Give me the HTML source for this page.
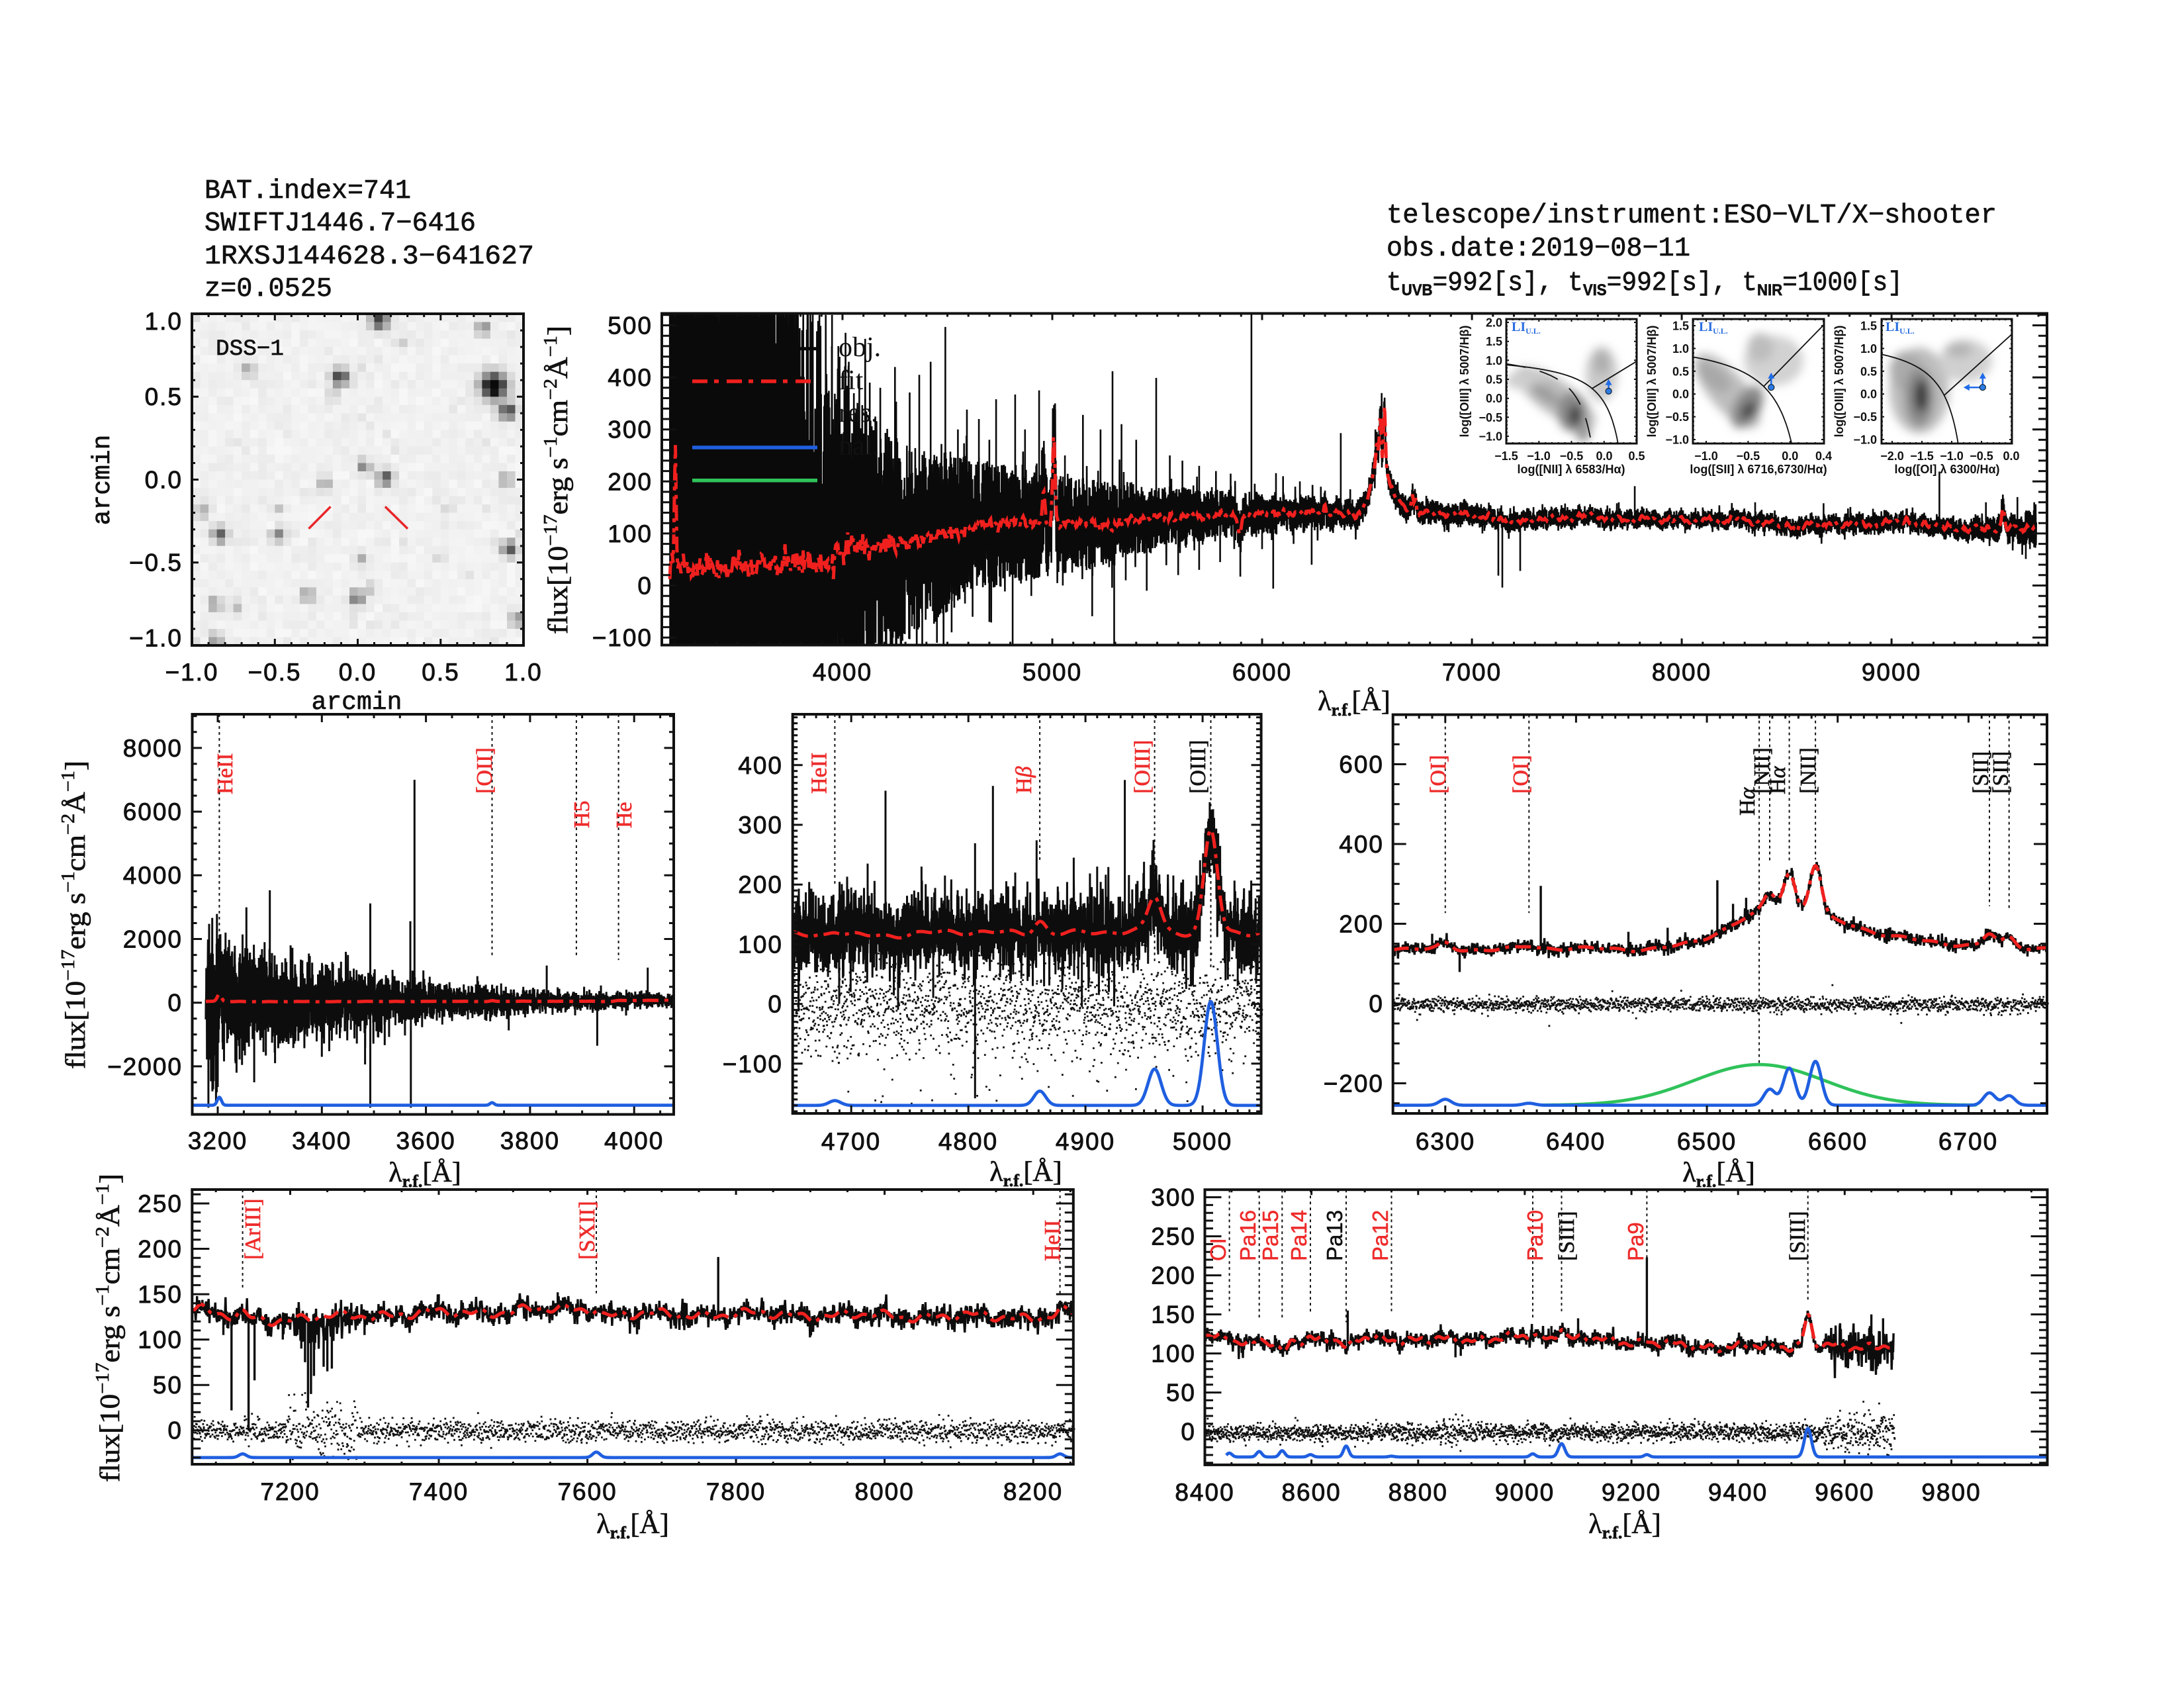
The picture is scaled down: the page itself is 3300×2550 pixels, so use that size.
<!DOCTYPE html>
<html><head><meta charset="utf-8">
<style>
html,body{margin:0;padding:0;background:#fff}
svg{display:block}
.tk{font-family:"Liberation Sans",sans-serif;font-size:37px;letter-spacing:2px;fill:#111;stroke:#111;stroke-width:0.9px}
.hd{font-family:"Liberation Mono",monospace;fill:#111;stroke:#111;stroke-width:0.7px}
.lr{font-family:"Liberation Serif",serif;font-size:34px;stroke-width:0.6px}
.ls{font-family:"Liberation Sans",sans-serif;font-size:33px;stroke-width:0.5px}
.it{font-family:"Liberation Sans",sans-serif;font-size:18px;font-weight:bold;fill:#111}
.ttl{font-family:"Liberation Serif",serif;font-size:42px;fill:#111;stroke:#111;stroke-width:0.7px}
</style></head>
<body>
<svg id="svg" xmlns="http://www.w3.org/2000/svg" width="3300" height="2550" viewBox="0 0 3300 2550">
<rect width="3300" height="2550" fill="#fff"/>
<defs>
<clipPath id="c_main"><rect x="1000" y="473.5" width="2093" height="501"/></clipPath>
<clipPath id="c_ml"><rect x="290.5" y="1079" width="727.5" height="604.5"/></clipPath>
<clipPath id="c_mc"><rect x="1197.7" y="1079" width="707.9" height="603"/></clipPath>
<clipPath id="c_mr"><rect x="2104.7" y="1079.6" width="988.3" height="602.4"/></clipPath>
<clipPath id="c_bl"><rect x="290.3" y="1797" width="1331.5" height="415"/></clipPath>
<clipPath id="c_br"><rect x="1820.5" y="1797.2" width="1273" height="415.7"/></clipPath>
<clipPath id="c_dss"><rect x="290" y="474" width="501" height="501"/></clipPath>
<clipPath id="c_i1"><rect x="2276" y="482" width="197" height="188"/></clipPath>
<clipPath id="c_i2"><rect x="2558" y="482" width="198" height="188"/></clipPath>
<clipPath id="c_i3"><rect x="2843" y="482" width="197" height="188"/></clipPath>
<filter id="blur" x="-50%" y="-50%" width="200%" height="200%"><feGaussianBlur stdDeviation="7"/></filter>
</defs>
<g id="dyn"></g>
<g id="txt">
<!-- headers -->
<text class="hd" font-size="40.5" x="309" y="299" textLength="312" lengthAdjust="spacingAndGlyphs">BAT.index=741</text>
<text class="hd" font-size="40.5" x="309" y="348" textLength="410" lengthAdjust="spacingAndGlyphs">SWIFTJ1446.7−6416</text>
<text class="hd" font-size="40.5" x="309" y="398" textLength="498" lengthAdjust="spacingAndGlyphs">1RXSJ144628.3−641627</text>
<text class="hd" font-size="40.5" x="309" y="447" textLength="193" lengthAdjust="spacingAndGlyphs">z=0.0525</text>
<text class="hd" font-size="41" x="2095" y="336" textLength="922" lengthAdjust="spacingAndGlyphs">telescope/instrument:ESO−VLT/X−shooter</text>
<text class="hd" font-size="41" x="2095" y="386" textLength="459" lengthAdjust="spacingAndGlyphs">obs.date:2019−08−11</text>
<text class="hd" font-size="41" x="2095" y="438" textLength="780" lengthAdjust="spacingAndGlyphs">t<tspan font-family="Liberation Sans" font-weight="bold" font-size="24" dy="8">UVB</tspan><tspan dy="-8">=992[s], t</tspan><tspan font-family="Liberation Sans" font-weight="bold" font-size="24" dy="8">VIS</tspan><tspan dy="-8">=992[s], t</tspan><tspan font-family="Liberation Sans" font-weight="bold" font-size="24" dy="8">NIR</tspan><tspan dy="-8">=1000[s]</tspan></text>

<!-- DSS -->
<text class="hd" font-size="34" x="326" y="536" textLength="103" lengthAdjust="spacingAndGlyphs">DSS−1</text>
<text class="hd" font-size="38" x="539" y="1071" text-anchor="middle">arcmin</text>
<text class="hd" font-size="38" transform="translate(165,725) rotate(-90)" text-anchor="middle">arcmin</text>
<g class="tk" text-anchor="middle">
<text x="290" y="1028">−1.0</text><text x="415" y="1028">−0.5</text><text x="540.5" y="1028">0.0</text><text x="666" y="1028">0.5</text><text x="791" y="1028">1.0</text>
</g>
<g class="tk" text-anchor="end">
<text x="276" y="498">1.0</text><text x="276" y="612">0.5</text><text x="276" y="737.5">0.0</text><text x="276" y="862.5">−0.5</text><text x="276" y="976.5">−1.0</text>
</g>

<!-- main panel labels -->
<g class="tk" text-anchor="middle">
<text x="1273" y="1028">4000</text><text x="1590" y="1028">5000</text><text x="1907" y="1028">6000</text><text x="2224" y="1028">7000</text><text x="2541" y="1028">8000</text><text x="2858" y="1028">9000</text>
</g>
<g class="tk" text-anchor="end">
<text x="986" y="504.5">500</text><text x="986" y="583">400</text><text x="986" y="661.7">300</text><text x="986" y="740.3">200</text><text x="986" y="819">100</text><text x="986" y="897.5">0</text><text x="986" y="976">−100</text>
</g>
<text class="ttl" x="2046" y="1073" text-anchor="middle">λ<tspan font-size="26" font-weight="bold" dy="8">r.f.</tspan><tspan dy="-8">[Å]</tspan></text>
<text class="ttl" transform="translate(857,725) rotate(-90)" text-anchor="middle" textLength="466" lengthAdjust="spacingAndGlyphs">flux[10<tspan font-size="28" dy="-16">−17</tspan><tspan dy="16">erg s</tspan><tspan font-size="28" dy="-16">−1</tspan><tspan dy="16">cm</tspan><tspan font-size="28" dy="-16">−2</tspan><tspan dy="16">Å</tspan><tspan font-size="28" dy="-16">−1</tspan><tspan dy="16">]</tspan></text>
<g font-family="Liberation Serif" font-size="42" fill="#111">
<text x="1267" y="538">obj.</text><text x="1267" y="588">fit</text><text x="1267" y="637">res.</text><text x="1267" y="687">nal.</text>
</g>

<!-- insets text -->
<g class="it" text-anchor="end">
<text x="2270" y="493.5">2.0</text><text x="2270" y="522">1.5</text><text x="2270" y="550.8">1.0</text><text x="2270" y="579.5">0.5</text><text x="2270" y="608">0.0</text><text x="2270" y="636.8">−0.5</text><text x="2270" y="665.5">−1.0</text>
<text x="2552" y="498.5">1.5</text><text x="2552" y="533">1.0</text><text x="2552" y="567.3">0.5</text><text x="2552" y="601.7">0.0</text><text x="2552" y="636">−0.5</text><text x="2552" y="670.5">−1.0</text>
<text x="2836" y="498.5">1.5</text><text x="2836" y="533">1.0</text><text x="2836" y="567.3">0.5</text><text x="2836" y="601.7">0.0</text><text x="2836" y="636">−0.5</text><text x="2836" y="670.5">−1.0</text>
</g>
<g class="it" text-anchor="middle">
<text x="2276" y="695">−1.5</text><text x="2325" y="695">−1.0</text><text x="2374.5" y="695">−0.5</text><text x="2424" y="695">0.0</text><text x="2473" y="695">0.5</text>
<text x="2578" y="695">−1.0</text><text x="2641.4" y="695">−0.5</text><text x="2704.8" y="695">0.0</text><text x="2755.5" y="695">0.4</text>
<text x="2859" y="695">−2.0</text><text x="2904" y="695">−1.5</text><text x="2949" y="695">−1.0</text><text x="2994" y="695">−0.5</text><text x="3039" y="695">0.0</text>
<text x="2374" y="715">log([NII] λ 6583/Hα)</text>
<text x="2657" y="715">log([SII] λ 6716,6730/Hα)</text>
<text x="2942" y="715">log([OI] λ 6300/Hα)</text>
<text transform="translate(2219,576) rotate(-90)">log([OIII] λ 5007/Hβ)</text>
<text transform="translate(2502,576) rotate(-90)">log([OIII] λ 5007/Hβ)</text>
<text transform="translate(2785,576) rotate(-90)">log([OIII] λ 5007/Hβ)</text>
</g>
<g font-family="Liberation Serif" font-weight="bold" font-size="20" fill="#2a6ee0">
<text x="2284" y="500">LI<tspan font-size="12" dy="4">U.L.</tspan></text>
<text x="2567" y="500">LI<tspan font-size="12" dy="4">U.L.</tspan></text>
<text x="2849" y="500">LI<tspan font-size="12" dy="4">U.L.</tspan></text>
</g>

<!-- mid-left -->
<g class="tk" text-anchor="middle">
<text x="329" y="1736">3200</text><text x="486.3" y="1736">3400</text><text x="643.6" y="1736">3600</text><text x="800.9" y="1736">3800</text><text x="958.2" y="1736">4000</text>
</g>
<g class="tk" text-anchor="end">
<text x="276" y="1143">8000</text><text x="276" y="1239">6000</text><text x="276" y="1335">4000</text><text x="276" y="1431.5">2000</text><text x="276" y="1527.7">0</text><text x="276" y="1624">−2000</text>
</g>
<text class="ttl" x="642" y="1785" text-anchor="middle">λ<tspan font-size="26" font-weight="bold" dy="8">r.f.</tspan><tspan dy="-8">[Å]</tspan></text>
<text class="ttl" transform="translate(128,1382) rotate(-90)" text-anchor="middle" textLength="466" lengthAdjust="spacingAndGlyphs">flux[10<tspan font-size="28" dy="-16">−17</tspan><tspan dy="16">erg s</tspan><tspan font-size="28" dy="-16">−1</tspan><tspan dy="16">cm</tspan><tspan font-size="28" dy="-16">−2</tspan><tspan dy="16">Å</tspan><tspan font-size="28" dy="-16">−1</tspan><tspan dy="16">]</tspan></text>
<g class="lr" fill="#ee2b2b" stroke="#ee2b2b">
<text transform="translate(351,1200) rotate(-90)">HeII</text>
<text transform="translate(743,1199) rotate(-90)">[OII]</text>
<text transform="translate(890,1251) rotate(-90)">H5</text>
<text transform="translate(954,1251) rotate(-90)">He</text>
</g>

<!-- mid-center -->
<g class="tk" text-anchor="middle">
<text x="1286" y="1737">4700</text><text x="1463" y="1737">4800</text><text x="1640" y="1737">4900</text><text x="1817" y="1737">5000</text>
</g>
<g class="tk" text-anchor="end">
<text x="1183" y="1169">400</text><text x="1183" y="1259">300</text><text x="1183" y="1349">200</text><text x="1183" y="1439.5">100</text><text x="1183" y="1529.6">0</text><text x="1183" y="1620">−100</text>
</g>
<text class="ttl" x="1550" y="1784" text-anchor="middle">λ<tspan font-size="26" font-weight="bold" dy="8">r.f.</tspan><tspan dy="-8">[Å]</tspan></text>
<g class="lr" fill="#ee2b2b" stroke="#ee2b2b">
<text transform="translate(1248.7,1199) rotate(-90)">HeII</text>
<text transform="translate(1558,1199) rotate(-90)">H<tspan font-style="italic">β</tspan></text>
<text transform="translate(1737,1199) rotate(-90)">[OIII]</text>
</g>
<text class="lr" fill="#111" stroke="#111" transform="translate(1821,1199) rotate(-90)">[OIII]</text>

<!-- mid-right -->
<g class="tk" text-anchor="middle">
<text x="2184" y="1737">6300</text><text x="2381" y="1737">6400</text><text x="2579" y="1737">6500</text><text x="2777" y="1737">6600</text><text x="2974" y="1737">6700</text>
</g>
<g class="tk" text-anchor="end">
<text x="2091" y="1167.5">600</text><text x="2091" y="1288">400</text><text x="2091" y="1408.5">200</text><text x="2091" y="1529">0</text><text x="2091" y="1649.5">−200</text>
</g>
<text class="ttl" x="2597" y="1785" text-anchor="middle">λ<tspan font-size="26" font-weight="bold" dy="8">r.f.</tspan><tspan dy="-8">[Å]</tspan></text>
<g class="lr" fill="#ee2b2b" stroke="#ee2b2b">
<text transform="translate(2184,1199) rotate(-90)">[OI]</text>
<text transform="translate(2309,1199) rotate(-90)">[OI]</text>
</g>
<g class="lr" fill="#111" stroke="#111">
<text transform="translate(2651,1232) rotate(-90)">H<tspan font-style="italic">α</tspan></text>
<text transform="translate(2673,1199) rotate(-90)">[NII]</text>
<text transform="translate(2697,1200) rotate(-90)">H<tspan font-style="italic">α</tspan></text>
<text transform="translate(2743,1199) rotate(-90)">[NII]</text>
<text transform="translate(3004,1199) rotate(-90)">[SII]</text>
<text transform="translate(3034,1199) rotate(-90)">[SII]</text>
</g>

<!-- bottom-left -->
<g class="tk" text-anchor="middle">
<text x="438.5" y="2266">7200</text><text x="663" y="2266">7400</text><text x="887.6" y="2266">7600</text><text x="1112" y="2266">7800</text><text x="1336.7" y="2266">8000</text><text x="1561" y="2266">8200</text>
</g>
<g class="tk" text-anchor="end">
<text x="276" y="1831">250</text><text x="276" y="1899.5">200</text><text x="276" y="1968">150</text><text x="276" y="2036.6">100</text><text x="276" y="2105">50</text><text x="276" y="2173.7">0</text>
</g>
<text class="ttl" x="956" y="2316" text-anchor="middle">λ<tspan font-size="26" font-weight="bold" dy="8">r.f.</tspan><tspan dy="-8">[Å]</tspan></text>
<text class="ttl" transform="translate(180,2006) rotate(-90)" text-anchor="middle" textLength="466" lengthAdjust="spacingAndGlyphs">flux[10<tspan font-size="28" dy="-16">−17</tspan><tspan dy="16">erg s</tspan><tspan font-size="28" dy="-16">−1</tspan><tspan dy="16">cm</tspan><tspan font-size="28" dy="-16">−2</tspan><tspan dy="16">Å</tspan><tspan font-size="28" dy="-16">−1</tspan><tspan dy="16">]</tspan></text>
<g class="lr" fill="#ee2b2b" stroke="#ee2b2b">
<text transform="translate(393,1903) rotate(-90)">[ArIII]</text>
<text transform="translate(898,1903) rotate(-90)">[SXII]</text>
<text transform="translate(1601,1905) rotate(-90)">HeII</text>
</g>

<!-- bottom-right -->
<g class="tk" text-anchor="middle">
<text x="1820.5" y="2267">8400</text><text x="1981.6" y="2267">8600</text><text x="2142.8" y="2267">8800</text><text x="2304" y="2267">9000</text><text x="2465" y="2267">9200</text><text x="2626" y="2267">9400</text><text x="2787.4" y="2267">9600</text><text x="2948.5" y="2267">9800</text>
</g>
<g class="tk" text-anchor="end">
<text x="1807" y="1821.6">300</text><text x="1807" y="1880.6">250</text><text x="1807" y="1939.6">200</text><text x="1807" y="1998.6">150</text><text x="1807" y="2057.6">100</text><text x="1807" y="2116.6">50</text><text x="1807" y="2175.6">0</text>
</g>
<text class="ttl" x="2455" y="2316" text-anchor="middle">λ<tspan font-size="26" font-weight="bold" dy="8">r.f.</tspan><tspan dy="-8">[Å]</tspan></text>
<g class="ls" fill="#ee2b2b" stroke="#ee2b2b">
<text transform="translate(1852,1905) rotate(-90)">OI</text>
<text transform="translate(1897,1905) rotate(-90)">Pa16</text>
<text transform="translate(1931,1905) rotate(-90)">Pa15</text>
<text transform="translate(1974,1905) rotate(-90)">Pa14</text>
<text transform="translate(2097,1905) rotate(-90)">Pa12</text>
<text transform="translate(2331,1905) rotate(-90)">Pa10</text>
<text transform="translate(2483,1905) rotate(-90)">Pa9</text>
</g>
<text class="ls" fill="#111" stroke="#111" transform="translate(2028,1905) rotate(-90)">Pa13</text>
<g class="lr" fill="#111" stroke="#111">
<text transform="translate(2378,1905) rotate(-90)">[SIII]</text>
<text transform="translate(2727,1905) rotate(-90)">[SIII]</text>
</g>
</g>
</svg>
<script>
(function(){
var seed=987654321;
function rnd(){seed|=0;seed=seed+0x6D2B79F5|0;var t=Math.imul(seed^seed>>>15,1|seed);t=t+Math.imul(t^t>>>7,61|t)^t;return((t^t>>>14)>>>0)/4294967296;}
function gauss(){var u=1-rnd(),v=rnd();return Math.sqrt(-2*Math.log(u))*Math.cos(6.283185307*v);}
function interp(k,x){if(x<=k[0][0])return k[0][1];for(var i=1;i<k.length;i++){if(x<=k[i][0]){var a=k[i-1],b=k[i];return a[1]+(b[1]-a[1])*(x-a[0])/(b[0]-a[0]);}}return k[k.length-1][1];}
function G(l,c,s,a){var d=(l-c)/s;return a*Math.exp(-0.5*d*d);}
function f(n){return n.toFixed(1);}
var CK=[[3140,28],[3180,38],[3300,32],[3500,36],[3700,40],[3900,45],[3935,35],[3955,40],[3968,66],[4000,70],[4300,82],[4500,100],[4650,114],[4800,119],[5000,120],[5200,121],[5280,112],[5300,118],[5400,128],[5600,132],[5850,137],[5880,128],[5893,95],[5905,132],[6000,138],[6200,140],[6300,137],[6450,137],[6700,143],[6760,141],[7000,135],[7080,133],[7100,126],[7200,122],[7300,127],[7400,129],[7600,134],[7620,127],[7800,128],[8000,126],[8200,125],[8250,128],[8400,121],[8470,116],[8490,112],[8500,116],[8530,113],[8545,90],[8560,113],[8600,118],[8640,121],[8655,113],[8665,92],[8680,116],[8700,119],[8850,117],[9000,121],[9100,119],[9200,115],[9300,110],[9400,108],[9500,110],[9600,109],[9700,110]];
var NL=[[3203,230,4],[3727,20,4],[4686,8,5],[4861,22,5],[4959,58,5.6],[5007,172,5.6],[6300,15,4.5],[6364,5,4.5],[6548,42,4.5],[6563,93,4.5],[6583,125,4.5],[6716,31,4.5],[6731,24,4.5],[7136,4,5],[7612,6,5],[8236,4,5],[8446,5,5],[8502,6,5],[8545,7,5],[8598,3,5],[8665,12,5],[9015,4,5],[9069,17,6],[9229,3,5],[9531,38,6.5]];
function wig(l){return 3*Math.sin(l/9.7)+2.5*Math.sin(l/4.3+1.3)+2*Math.sin(l/23+0.5);}
function F(l){var v=interp(CK,l)+wig(l);v+=G(l,6555,l<6555?35:55,95);for(var i=0;i<NL.length;i++){var n=NL[i];if(Math.abs(l-n[0])<7*n[2])v+=G(l,n[0],n[2],n[1]);}return v;}
function mk(id,x0,x1,y0,y1,xa,xb,ya,yb){return{id:id,x0:x0,x1:x1,y0:y0,y1:y1,xa:xa,xb:xb,ya:ya,yb:yb,
 X:function(l){return x0+(l-xa)*(x1-x0)/(xb-xa);},Y:function(v){return y0+(ya-v)*(y1-y0)/(ya-yb);},L:function(x){return xa+(x-x0)*(xb-xa)/(x1-x0);}};}
var P={
 main:mk('main',1000,3093,473.5,974.5,3138.8,9741,522.9,-114.5),
 ml:mk('ml',290.5,1018,1079,1683.5,3151,4076,9058,-3509),
 mc:mk('mc',1197.7,1905.6,1079,1682,4650,5050,485.1,-183.4),
 mr:mk('mr',2104.7,3093,1079.6,1682,6260,6760,724.3,-275.5),
 bl:mk('bl',290.3,1621.8,1797,2212,7068,8254,265.3,-37.4),
 br:mk('br',1820.5,3093.5,1797.2,2212.9,8400,9980,309.7,-42.6),
 dss:mk('dss',290,791,474,975,-1,1,1,-1),
 i1:mk('i1',2276,2473,482,670,-1.5,0.5,2.087,-1.192),
 i2:mk('i2',2558,2756,482,670,-1.158,0.404,1.645,-1.087),
 i3:mk('i3',2843,3040,482,670,-2.178,0.011,1.645,-1.087)
};
function cl(p,y){return Math.max(p.y0-30,Math.min(p.y1+30,y));}
var out=[];
var RED='#f0201e',BLUE='#1f5fe0',GREEN='#2fc25a';

/* ---------- DSS image ---------- */
(function(){
 var stars=[[574,484,.85,9],[730,496,.5,7],[605,516,.2,6],[375,559,.35,7],[514,570,.8,9],[746,583,1.25,13],[767,621,.75,9],[503,599,.2,6],[550,704,.5,7],[582,722,.7,8],[490,731,.35,7],[765,725,.45,7],[305,772,.35,7],[421,769,.2,6],[332,807,.65,8],[420,808,.5,7],[770,829,.7,8],[547,845,.3,6],[465,899,.45,7],[539,903,.55,8],[561,889,.25,6],[325,912,.45,7],[358,915,.25,6],[781,936,.5,7],[326,966,.45,7],[665,842,.2,5],[677,765,.15,6],[286,975,.4,7]];
 var s='',n=40,cs=501/n;
 for(var j=0;j<n;j++)for(var i=0;i<n;i++){
  var cx=290+(i+.5)*cs,cy=474+(j+.5)*cs;var d=0.025+0.015*gauss();if(rnd()<0.04)d+=0.06*rnd();
  for(var k=0;k<stars.length;k++){var st=stars[k];var dx=cx-st[0],dy=cy-st[1];var r2=dx*dx+dy*dy;if(r2<16*st[3]*st[3])d+=st[2]*Math.exp(-r2/(2*st[3]*st[3]));}
  d=Math.max(0,Math.min(1,d));var g=Math.round(247-237*d);
  s+='<rect x="'+f(290+i*cs)+'" y="'+f(474+j*cs)+'" width="'+f(cs+0.4)+'" height="'+f(cs+0.4)+'" fill="rgb('+g+','+g+','+g+')"/>';
 }
 out.push('<g clip-path="url(#c_dss)">'+s+'</g>');
 out.push('<path d="M466.5 798.7L499.5 765.4M582 765.4L616 798.7" stroke="#e8262a" stroke-width="3.5" fill="none"/>');
})();

/* ---------- helpers ---------- */
function dataPath(p,l0,l1,step,sig,spikes,extra,sw){
 var d='';
 for(var l=l0;l<=l1;l+=step){var v=F(l)+sig(l)*gauss();if(extra)v+=extra(l);d+=(d?'L':'M')+f(p.X(l))+' '+f(cl(p,p.Y(v)));}
 for(var i=0;i<spikes.length;i++){var s=spikes[i];var x=f(p.X(s[0]));d+='M'+x+' '+f(cl(p,p.Y(F(s[0]))))+'L'+x+' '+f(cl(p,p.Y(s[1])));}
 return '<path d="'+d+'" fill="none" stroke="#0d0d0d" stroke-width="'+(sw||3.2)+'" stroke-linejoin="bevel" clip-path="url(#c_'+p.id+')"/>';
}
function fitPath(p,l0,l1,jit){
 var d='';var step=(p.xb-p.xa)/(p.x1-p.x0)*1.2;
 for(var l=l0;l<=l1;l+=step){var v=F(l)+(jit?jit(l)*gauss():0);d+=(d?'L':'M')+f(p.X(l))+' '+f(cl(p,p.Y(v)));}
 return '<path d="'+d+'" fill="none" stroke="'+RED+'" stroke-width="5" stroke-dasharray="24 9 6 9" clip-path="url(#c_'+p.id+')"/>';
}
function dotsPath(p,l0,l1,step,fn){
 var d='';
 for(var l=l0;l<=l1;l+=step){var v=fn(l);var x=p.X(l+(rnd()-0.5)*step),y=p.Y(v);if(y<p.y0||y>p.y1-2)continue;d+='M'+f(x)+' '+f(y)+'h2.8v2.8h-2.8z';}
 return '<path d="'+d+'" fill="#111"/>';
}
function compPath(p,base,comps,l0,l1,color,minv){
 var d='';var step=(p.xb-p.xa)/(p.x1-p.x0)*0.7;var on=false;
 for(var l=l0;l<=l1;l+=step){var v=0;for(var i=0;i<comps.length;i++)v+=G(l,comps[i][0],comps[i][2],comps[i][1]);
  if(minv!==undefined&&v<minv){on=false;continue;}
  d+=(on?'L':'M')+f(p.X(l))+' '+f(p.Y(base+v));on=true;}
 return '<path d="'+d+'" fill="none" stroke="'+color+'" stroke-width="4.8" stroke-linejoin="round" clip-path="url(#c_'+p.id+')"/>';
}
function vlines(p,list){
 var d='';for(var i=0;i<list.length;i++){var x=f(p.X(list[i][0]));d+='M'+x+' '+p.y0+'L'+x+' '+f(p.Y(list[i][1]));}
 return '<path d="'+d+'" fill="none" stroke="#111" stroke-width="2" stroke-dasharray="4 5"/>';
}
function ticks(p,xmaj,xmin,ymaj,ymin,xl,xs,yl,ys,sw){
 var d='';var rx=Math.round(xmaj/xmin),ry=Math.round(ymaj/ymin);
 for(var k=Math.ceil(p.xa/xmin-1e-9);k*xmin<=p.xb+1e-9;k++){var x=f(p.X(k*xmin));var L=(((k%rx)+rx)%rx===0)?xl:xs;d+='M'+x+' '+p.y1+'v'+(-L)+'M'+x+' '+p.y0+'v'+L;}
 var ylo=Math.min(p.ya,p.yb),yhi=Math.max(p.ya,p.yb);
 for(var k2=Math.ceil(ylo/ymin-1e-9);k2*ymin<=yhi+1e-9;k2++){var y=f(p.Y(k2*ymin));var L2=(((k2%ry)+ry)%ry===0)?yl:ys;d+='M'+p.x0+' '+y+'h'+L2+'M'+p.x1+' '+y+'h'+(-L2);}
 return '<path d="'+d+'" fill="none" stroke="#111" stroke-width="'+sw+'"/><rect x="'+p.x0+'" y="'+p.y0+'" width="'+f(p.x1-p.x0)+'" height="'+f(p.y1-p.y0)+'" fill="none" stroke="#111" stroke-width="'+(sw+1)+'"/>';
}

/* ---------- main panel ---------- */
(function(){
 var p=P.main;
 var ENV=[[3177,2500],[3700,900],[3800,600],[3900,450],[4000,330],[4100,270],[4200,230],[4400,175],[4600,140],[4800,118],[5000,102],[5200,88],[5500,64],[5800,46],[6000,40],[6300,32],[6500,29],[7000,21],[8000,18],[9000,20],[9400,23],[9600,29],[9690,40]];
 var d='',sg=1;
 for(var x=p.X(3177);x<=p.X(9690);x+=0.45){var l=p.L(x);var e=interp(ENV,l);var v=F(l)+sg*e*(0.25+0.75*rnd())*(rnd()<0.06?1.6:1);sg=-sg;d+=(d?'L':'M')+f(x)+' '+f(cl(p,p.Y(v)));}
 var sp=[[4490,497],[4366,405],[4320,371],[4593,338],[4732,358],[4823,367],[4937,375],[4811,-115],[5013,350],[5146,328],[5190,-59],[5287,412],[5295,-115],[5495,399],[5949,530],[6053,-6],[6066,216],[6236,40],[6375,293],[5896,17],[7145,-4],[7126,19],[7230,28],[7776,191],[9228,219],[8676,158],[9640,51],[4250,420],[4420,430],[4550,300],[4650,320],[4700,280],[4870,300],[4950,260],[5060,250],[5230,300],[5330,310],[5400,280],[5560,250],[5620,240],[5700,230],[5780,220],[5850,215],[6100,210],[6180,200],[6280,190],[6420,185],[4380,-115],[4450,-110],[4520,-90],[4620,-60],[4700,-70],[4900,-20],[5050,0],[5350,10],[5450,-10],[5600,20],[5700,30],[5800,45],[6000,70],[6150,80],[3980,460],[4030,430],[4080,400],[4130,390],[4180,380],[3950,520],[3920,520],[3890,520],[6540,300],[6570,370],[6580,340],[7050,100],[7700,160],[8100,150],[8350,160],[8500,95],[9100,150],[9300,90],[9450,160],[9600,170],[9660,70],[9680,160]];
 for(var i=0;i<sp.length;i++){var xx=f(p.X(sp[i][0]));d+='M'+xx+' '+f(cl(p,p.Y(F(sp[i][0]))))+'L'+xx+' '+f(cl(p,p.Y(sp[i][1])));}
 out.push('<path d="'+d+'" fill="none" stroke="#0a0a0a" stroke-width="2.6" stroke-linejoin="bevel" clip-path="url(#c_main)"/>');
 out.push(fitPath(p,3177,9690,function(l){return Math.min(interp(ENV,l),300)/28;}));
 out.push(ticks(p,1000,100,100,20,10,5,22,13,3));
 out.push('<path d="M1045 526.7H1235" stroke="#0a0a0a" stroke-width="5"/>');
 out.push('<path d="M1046 576H1232" stroke="'+RED+'" stroke-width="5.5" stroke-dasharray="23 10 7 12"/>');
 out.push('<path d="M1046 676H1235" stroke="'+BLUE+'" stroke-width="5.5"/>');
 out.push('<path d="M1046 725.7H1235" stroke="'+GREEN+'" stroke-width="5.5"/>');
})();

/* ---------- insets ---------- */
(function(){
 function curve(p,fn,x0,x1){var d='';for(var x=x0;x<=x1+1e-9;x+=0.004){var y=fn(x);if(y<p.yb-0.1)break;if(y>p.ya+0.5)continue;d+=(d?'L':'M')+f(p.X(x))+' '+f(p.Y(y));}return d;}
 function root(g,a,b){for(var i=0;i<60;i++){var m=(a+b)/2;if(g(a)*g(m)<=0)b=m;else a=m;}return (a+b)/2;}
 function ell(a){return '<ellipse cx="'+a[0]+'" cy="'+a[1]+'" rx="'+a[2]+'" ry="'+a[3]+'" transform="rotate('+a[4]+' '+a[0]+' '+a[1]+')" fill="'+a[5]+'"/>';}
 var cfg=[
  {p:P.i1,blobs:[[2350,600,72,26,35,'#bdbdbd'],[2305,575,30,14,0,'#cdcdcd'],[2420,565,24,42,0,'#cacaca'],[2420,548,12,18,0,'#adadad'],[2335,595,25,10,35,'#9c9c9c'],[2375,622,22,30,0,'#8a8a8a'],[2392,650,12,18,0,'#9a9a9a'],[2380,628,10,16,0,'#454545']],
   kew:function(x){return 0.61/(x-0.47)+1.19;},kx:[-1.5,0.3],kau:function(x){return 0.61/(x-0.05)+1.3;},
   line:function(x){return 1.05*x+0.45;},xr:0.5,pt:[0.07,0.186],up:0.47,left:null},
  {p:P.i2,blobs:[[2610,590,70,28,50,'#bdbdbd'],[2680,545,45,38,0,'#d2d2d2'],[2660,525,20,22,0,'#bdbdbd'],[2590,570,30,15,40,'#a8a8a8'],[2640,615,20,35,30,'#8a8a8a'],[2642,620,9,15,30,'#454545']],
   kew:function(x){return 0.72/(x-0.32)+1.30;},kx:[-1.158,0.3],kau:null,
   line:function(x){return 1.89*x+0.76;},xr:0.404,pt:[-0.225,0.145],up:0.44,left:null},
  {p:P.i3,blobs:[[2900,590,45,65,0,'#bdbdbd'],[2970,545,40,32,0,'#d0d0d0'],[2960,528,20,12,0,'#b5b5b5'],[2880,560,25,30,0,'#ababab'],[2900,600,22,45,0,'#8a8a8a'],[2903,598,10,25,0,'#353535']],
   kew:function(x){return 0.73/(x+0.59)+1.33;},kx:[-2.178,-0.6],kau:null,
   line:function(x){return 1.18*x+1.30;},xr:0.011,pt:[-0.48,0.145],up:0.44,left:-0.78}
 ];
 for(var c=0;c<cfg.length;c++){
  var q=cfg[c],p=q.p,s='';
  s+='<rect x="'+p.x0+'" y="'+p.y0+'" width="'+f(p.x1-p.x0)+'" height="'+f(p.y1-p.y0)+'" fill="#fff"/>';
  s+='<g clip-path="url(#c_'+p.id+')"><g filter="url(#blur)">';
  for(var b=0;b<q.blobs.length;b++)s+=ell(q.blobs[b]);
  s+='</g>';
  s+='<path d="'+curve(p,q.kew,q.kx[0],q.kx[1])+'" fill="none" stroke="#111" stroke-width="1.8"/>';
  if(q.kau)s+='<path d="'+curve(p,q.kau,-1.5,0.04)+'" fill="none" stroke="#111" stroke-width="1.8" stroke-dasharray="30 22"/>';
  var xi=root(function(x){return q.kew(x)-q.line(x);},q.kx[0]+0.5,q.kx[1]);
  s+='<path d="M'+f(p.X(xi))+' '+f(p.Y(q.line(xi)))+'L'+f(p.X(q.xr))+' '+f(p.Y(q.line(q.xr)))+'" fill="none" stroke="#111" stroke-width="1.8"/>';
  s+='</g>';
  var px=p.X(q.pt[0]),py=p.Y(q.pt[1]),uy=p.Y(q.up);
  s+='<path d="M'+f(px)+' '+f(py)+'V'+f(uy+6)+'" stroke="#1f6be8" stroke-width="2.5"/><path d="M'+f(px-5)+' '+f(uy+7)+'L'+f(px)+' '+f(uy-2)+'L'+f(px+5)+' '+f(uy+7)+'z" fill="#1f6be8"/>';
  if(q.left!==null){var lx=p.X(q.left);s+='<path d="M'+f(px)+' '+f(py)+'H'+f(lx+6)+'" stroke="#1f6be8" stroke-width="2.5"/><path d="M'+f(lx+7)+' '+f(py-5)+'L'+f(lx-2)+' '+f(py)+'L'+f(lx+7)+' '+f(py+5)+'z" fill="#1f6be8"/>';}
  s+='<circle cx="'+f(px)+'" cy="'+f(py)+'" r="4.5" fill="#2c7be5" stroke="#123" stroke-width="1.2"/>';
  s+=ticks(p,0.5,0.1,0.5,0.1,4,2,4,2,2);
  out.push(s);
 }
})();

/* ---------- mid-left ---------- */
(function(){
 var p=P.ml;
 var SG=[[3177,1050],[3250,800],[3350,600],[3450,460],[3550,350],[3650,265],[3750,200],[3850,155],[3950,122],[4076,105]];
 out.push(vlines(p,[[3203,2023],[3727,1418],[3889,1418],[3970,1340]]));
 out.push(dataPath(p,3177,4076,0.2,function(l){return interp(SG,l);},[[3578,7000],[3571,-3300],[3570,2560],[3493,3116],[3493,-3300],[3300,3530],[3255,2996],[3182,1657],[3182,-3300],[3198,-2815],[3236,-2200],[3483,-1940],[3832,1166],[3929,-1353],[4026,1100],[3759,-870],[3215,2200],[3205,2150],[3290,1900],[3340,1800],[3270,-2500],[3310,-1900],[3400,-1700]],null,3.0));
 out.push(fitPath(p,3177,4076,null));
 out.push(compPath(p,-3220,[[3203,250,4],[3727,80,4]],3151,4076,BLUE));
 out.push(ticks(p,200,50,2000,500,12,6,14.5,7,3));
})();

/* ---------- mid-center ---------- */
(function(){
 var p=P.mc;
 out.push(vlines(p,[[4686,200],[4861,240],[4959,70],[5007,60]]));
 out.push(dotsPath(p,4650,5050,0.22,function(l){var g=gauss();return g*38-(g<0?g*g*6:0)-5;}));
 out.push(dataPath(p,4650,5050,0.15,function(){return 33;},[[4729.3,357],[4821,365],[4805.7,269],[4805.7,-158],[4858.3,274],[4933.6,375],[4714,235],[4890,245],[4666,193],[4689.7,0],[4896.9,-5],[4986,25],[4760,230],[4780,215],[4840,220],[4910,230],[4950,238],[4975,215],[5040,190],[4700,195],[4740,-10],[4770,10],[4655,10],[4855,30],[4920,20],[5030,30]],null,3.0));
 out.push(fitPath(p,4650,5050,null));
 out.push(compPath(p,-170,[[4686,8,5],[4861,24,5],[4959,61,5.6],[5007,174,5.6]],4650,5050,BLUE));
 out.push(ticks(p,100,10,100,10,12,6,15,7.5,3));
})();

/* ---------- mid-right ---------- */
(function(){
 var p=P.mr;
 out.push(vlines(p,[[6300,227],[6364,227],[6540,-151],[6548,355],[6563,355],[6583,361],[6716,244],[6731,237]]));
 out.push(dotsPath(p,6260,6760,0.28,function(l){return gauss()*9+(rnd()<0.02?gauss()*25:0);}));
 out.push(dataPath(p,6260,6760,0.3,function(){return 8;},[[6373,295],[6508,309],[6311,79],[6440,180],[6470,190],[6290,175],[6520,250],[6530,265],[6528,200]],null,3.4));
 out.push(fitPath(p,6260,6760,null));
 out.push(compPath(p,-255,[[6540,102,50]],6260,6760,GREEN,0.4));
 out.push(compPath(p,-255,[[6300,15,4.5],[6364,5,4.5],[6548,40,4.5],[6563,93,4.5],[6583,110,4.5],[6716,31,4.5],[6731,24,4.5]],6260,6760,BLUE));
 out.push(ticks(p,100,10,200,50,12,6,20,10,3));
})();

/* ---------- bottom-left ---------- */
(function(){
 var p=P.bl;
 out.push(vlines(p,[[7136,154],[7612,151],[8236,150]]));
 out.push(dotsPath(p,7068,8254,0.55,function(l){var s=(l>7195&&l<7290)?15:6;return gauss()*s;}));
 out.push(dataPath(p,7068,8254,0.6,function(){return 6;},[[7121,22],[7144,0],[7152,55],[7224,25],[7228,40],[7232,60],[7245,70],[7250,65],[7256,68],[7215,90],[7220,75],[7776,191],[7400,150],[7560,152],[7300,105],[7110,105],[7190,100]],function(l){return (l>7205&&l<7280)?-30*Math.pow(rnd(),2):0;},3.4));
 out.push(fitPath(p,7068,8254,null));
 out.push(compPath(p,-30,[[7136,4,5],[7612,6,5],[8236,4,5]],7068,8254,BLUE));
 out.push(ticks(p,200,50,50,10,8,4,26,13,3));
})();

/* ---------- bottom-right ---------- */
(function(){
 var p=P.br;
 out.push(vlines(p,[[8446,154],[8502,146],[8545,146],[8598,150],[8665,140],[8750,154],[9015,146],[9069,154],[9229,223],[9531,166]]));
 out.push(dotsPath(p,8400,9692,0.55,function(l){var s=l>9560?12:((l>8840&&l<8910)?9:5.5);return gauss()*s;}));
 out.push(dataPath(p,8400,9692,0.7,function(l){return l>9570?14:5;},[[8668,155],[9229,223],[8870,95],[8880,97],[9100,145],[9050,135],[9660,80],[9650,150],[9672,145],[9640,88],[9680,100],[9690,92]],null,3.4));
 out.push(fitPath(p,8400,9692,null));
 out.push(compPath(p,-32.5,[[8446,5,5],[8502,7,5],[8545,8,5],[8598,3,5],[8665,14,5],[8750,1,5],[9015,4,5],[9069,17,6],[9229,3,5],[9531,36.5,6.5]],8440,9980,BLUE));
 out.push(ticks(p,200,50,50,10,8,4,25,12.5,3));
})();

/* ---------- DSS axes ---------- */
out.push(ticks(P.dss,0.5,0.1,0.5,0.1,10,5,10,5,3));

document.getElementById('dyn').innerHTML=out.join('');
})();
</script>
</body></html>
